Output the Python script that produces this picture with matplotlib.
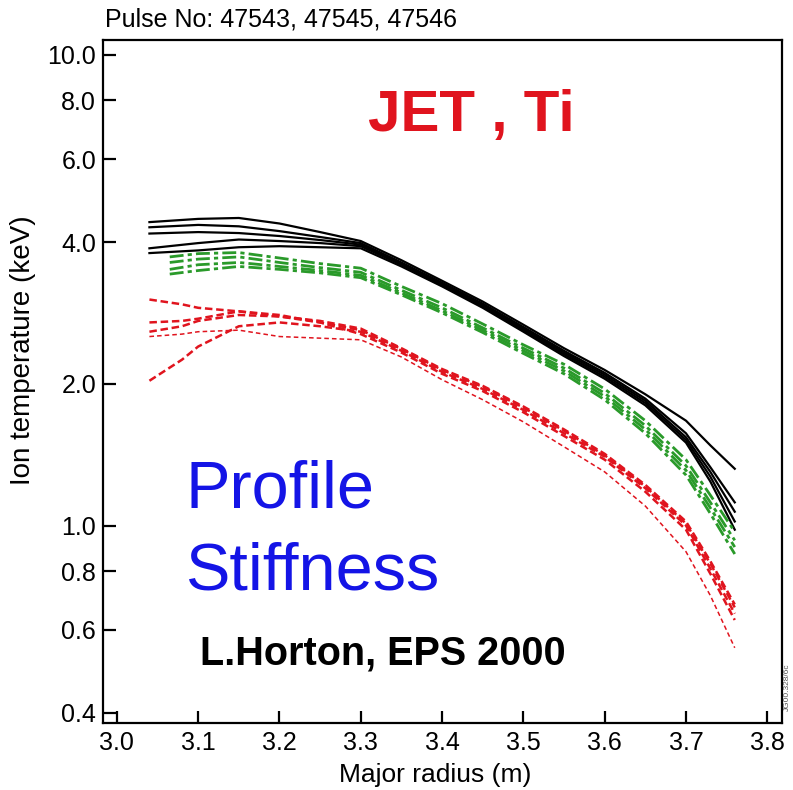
import numpy as np
import matplotlib
matplotlib.use('Agg')
import matplotlib.pyplot as plt
from matplotlib.ticker import FixedLocator, FixedFormatter, NullLocator

plt.rcParams['font.family'] = ['Liberation Sans', 'DejaVu Sans']

# radial grids (m)
x_black = [3.04, 3.10, 3.15, 3.20, 3.25, 3.30, 3.35, 3.40, 3.45, 3.50, 3.55, 3.60, 3.65, 3.70, 3.73, 3.76]
x_green = [3.065, 3.10, 3.15, 3.20, 3.25, 3.30, 3.35, 3.40, 3.45, 3.50, 3.55, 3.60, 3.65, 3.70, 3.73, 3.76]
x_red = [3.04, 3.08, 3.10, 3.15, 3.20, 3.25, 3.30, 3.35, 3.40, 3.45, 3.50, 3.55, 3.60, 3.65, 3.70, 3.73, 3.76]

# Ti profiles (keV)
black_1 = [4.41, 4.48, 4.50, 4.38, 4.20, 4.02, 3.66, 3.31, 2.99, 2.67, 2.38, 2.14, 1.90, 1.67, 1.48, 1.32]
black_2 = [4.30, 4.35, 4.32, 4.22, 4.10, 3.98, 3.62, 3.28, 2.96, 2.64, 2.35, 2.11, 1.86, 1.57, 1.33, 1.12]
black_3 = [4.17, 4.20, 4.18, 4.12, 4.04, 3.95, 3.60, 3.26, 2.94, 2.62, 2.33, 2.09, 1.84, 1.54, 1.30, 1.07]
black_4 = [3.88, 3.98, 4.05, 4.02, 3.98, 3.92, 3.58, 3.24, 2.92, 2.60, 2.31, 2.07, 1.82, 1.52, 1.27, 1.02]
black_5 = [3.79, 3.84, 3.90, 3.92, 3.90, 3.88, 3.55, 3.22, 2.90, 2.58, 2.29, 2.05, 1.80, 1.50, 1.24, 0.98]

green_1 = [3.72, 3.78, 3.80, 3.70, 3.60, 3.52, 3.22, 2.96, 2.68, 2.42, 2.20, 1.95, 1.67, 1.38, 1.16, 0.97]
green_2 = [3.62, 3.68, 3.72, 3.62, 3.53, 3.45, 3.16, 2.90, 2.63, 2.38, 2.16, 1.91, 1.63, 1.34, 1.12, 0.93]
green_3 = [3.50, 3.58, 3.62, 3.55, 3.48, 3.40, 3.12, 2.86, 2.60, 2.35, 2.13, 1.88, 1.60, 1.31, 1.09, 0.90]
green_4 = [3.42, 3.48, 3.55, 3.50, 3.44, 3.36, 3.09, 2.83, 2.57, 2.32, 2.10, 1.85, 1.57, 1.28, 1.06, 0.87]

red_1 = [3.02, 2.95, 2.90, 2.85, 2.78, 2.70, 2.60, 2.37, 2.14, 1.97, 1.78, 1.59, 1.41, 1.21, 1.01, 0.83, 0.67]
red_2 = [2.03, 2.25, 2.40, 2.65, 2.70, 2.65, 2.58, 2.35, 2.12, 1.95, 1.76, 1.57, 1.40, 1.20, 1.00, 0.81, 0.65]
red_3 = [2.58, 2.65, 2.72, 2.80, 2.78, 2.72, 2.62, 2.38, 2.15, 1.98, 1.79, 1.60, 1.42, 1.22, 1.02, 0.84, 0.68]
red_4 = [2.70, 2.72, 2.75, 2.85, 2.80, 2.70, 2.55, 2.33, 2.10, 1.93, 1.74, 1.55, 1.38, 1.18, 0.98, 0.79, 0.63]
red_5 = [2.52, 2.55, 2.58, 2.60, 2.52, 2.50, 2.48, 2.28, 2.04, 1.85, 1.66, 1.47, 1.30, 1.10, 0.88, 0.71, 0.55]

y_ticks = [0.4, 0.6, 0.8, 1.0, 2.0, 4.0, 6.0, 8.0, 10.0]
x_ticks = [3.0, 3.1, 3.2, 3.3, 3.4, 3.5, 3.6, 3.7, 3.8]

RED = '#e0141e'
GREEN = '#2a9a2a'
BLUE = '#1414e6'

fig = plt.figure(figsize=(7.93, 7.90), dpi=100)
ax = fig.add_axes([0.130, 0.085, 0.856, 0.864])

for y in [black_1, black_2, black_3, black_4, black_5]:
    ax.plot(x_black, y, color='black', lw=1.6)
for y in [green_1, green_2, green_3, green_4]:
    ax.plot(x_green, y, color=GREEN, lw=2.0, dashes=(5, 1.5, 1.5, 1.5))
for y in [red_1, red_2, red_3, red_4]:
    ax.plot(x_red, y, color=RED, lw=1.8, dashes=(3, 1.5))
ax.plot(x_red, red_5, color=RED, lw=1.1, dashes=(3, 2))

ax.set_yscale('log')
ax.set_xlim(2.983, 3.818)
ax.set_ylim(0.381, 10.73)

ax.yaxis.set_major_locator(FixedLocator(y_ticks))
ax.yaxis.set_major_formatter(FixedFormatter(['%.1f' % v for v in y_ticks]))
ax.yaxis.set_minor_locator(NullLocator())
ax.set_xticks(x_ticks)
ax.set_xticklabels(['%.1f' % v for v in x_ticks])

ax.tick_params(direction='in', length=9, width=1.6, labelsize=18, top=False, right=False)
ax.tick_params(axis='x', pad=6)
ax.tick_params(axis='y', pad=5)
for s in ax.spines.values():
    s.set_linewidth(1.6)

ax.text(0.489, -0.076, 'Major radius (m)', transform=ax.transAxes, ha='center', va='center', fontsize=19)
ax.text(-0.118, 0.546, 'Ion temperature (keV)', transform=ax.transAxes, ha='center', va='center',
        rotation=90, fontsize=20)
fig.text(105 / 793, 1 - 19 / 790, 'Pulse No: 47543, 47545, 47546', ha='left', va='center', fontsize=18)

ax.text(0.542, 0.889, 'JET , Ti', transform=ax.transAxes, color=RED, fontsize=42,
        fontweight='bold', ha='center', va='center')
ax.text(0.121, 0.341, 'Profile', transform=ax.transAxes, color=BLUE, fontsize=48, ha='left', va='center')
ax.text(0.121, 0.220, 'Stiffness', transform=ax.transAxes, color=BLUE, fontsize=48, ha='left', va='center')
ax.text(0.143, 0.102, 'L.Horton, EPS 2000', transform=ax.transAxes, color='black', fontsize=28.5,
        fontweight='bold', ha='left', va='center')
fig.text(0.993, 0.13, 'JG00.328/6c', rotation=90, fontsize=6, color='#555555', ha='center', va='center')

fig.savefig('out.png', dpi=100)
